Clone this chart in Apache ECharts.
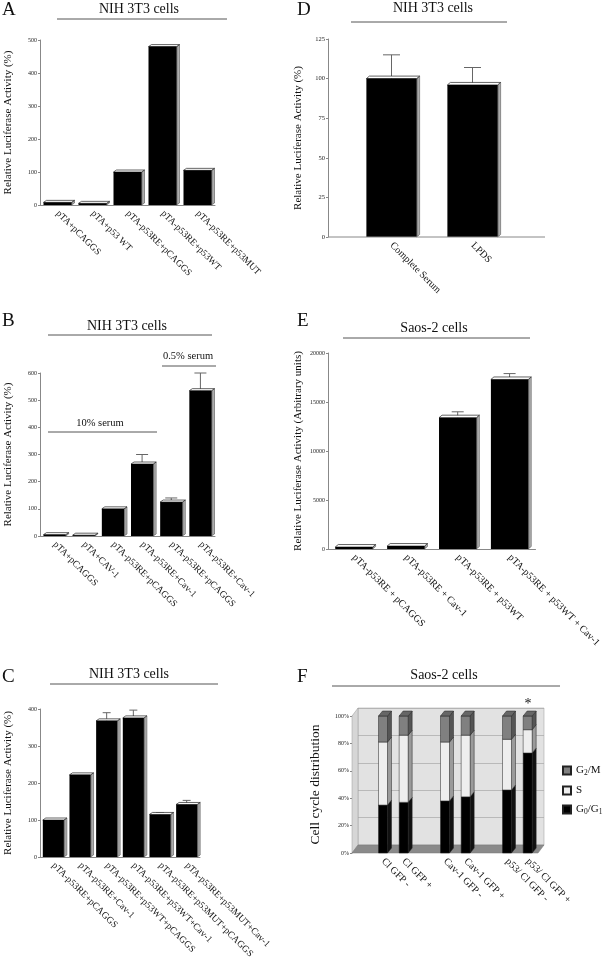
<!DOCTYPE html>
<html><head><meta charset="utf-8">
<script src="https://cdn.jsdelivr.net/npm/echarts@6/dist/echarts.min.js"></script>
<style>html,body{margin:0;padding:0;background:#fff}#c{width:603px;height:978px}</style>
</head><body><div id="c"></div><script>
// ---------- data ----------
const catsA = ['pTA+pCAGGS','pTA+p53 WT','pTA-p53RE+pCAGGS','pTA-p53RE+p53WT','pTA-p53RE+p53MUT'];
const valsA = [8, 5, 100, 480, 105];
const errA  = [0, 0, 0, 0, 0];

const catsB = ['pTA+pCAGGS','pTA+CAV-1','pTA-p53RE+pCAGGS','pTA-p53RE+Cav-1','pTA-p53RE+pCAGGS','pTA-p53RE+Cav-1'];
const valsB = [5, 3, 100, 265, 125, 535];
const errB  = [0, 0, 0, 300, 140, 600];

const catsC = ['pTA-p53RE+pCAGGS','pTA-p53RE+Cav-1','pTA-p53RE+p53WT+pCAGGS','pTA-p53RE+p53WT+Cav-1','pTA-p53RE+p53MUT+pCAGGS','pTA-p53RE+p53MUT+Cav-1'];
const valsC = [100, 222, 368, 376, 115, 142];
const errC  = [0, 0, 390, 397, 120, 153];

const catsD = ['Complete Serum','LPDS'];
const valsD = [100, 96];
const errD  = [115, 107];

const catsE = ['pTA-p53RE + pCAGGS','pTA-p53RE + Cav-1','pTA-p53RE + p53WT','pTA-p53RE + p53WT + Cav-1'];
const valsE = [200, 300, 13400, 17300];
const errE  = [0, 0, 14000, 17900];

const slotsF = ['', 'Cl GFP -', 'Cl GFP +', '', 'Cav-1 GFP -', 'Cav-1 GFP +', '', 'p53/ Cl GFP -', 'p53/ Cl GFP +'];
const g0g1F = [35, 37, 38, 41, 46, 73];
const sF    = [46, 49, 43, 45, 37, 17];
const g2mF  = [19, 14, 19, 14, 17, 10];

// ---------- helpers ----------
const FF = 'Liberation Serif, Times New Roman, serif';
function bar3d(ratio, cap, dx, dy) {
  return function (params, api) {
    const i = api.value(0), v = api.value(1), e = api.value(2);
    const p = api.coord([i, v]), p0 = api.coord([i, 0]);
    const bw = api.size([1, 0])[0] * ratio;
    const x0 = p[0] - bw / 2, x1 = p[0] + bw / 2, yt = p[1], yb = p0[1];
    const ch = [];
    if (e > v) {
      const pe = api.coord([i, e]);
      ch.push({type:'line', shape:{x1:p[0], y1:yt, x2:p[0], y2:pe[1]}, style:{stroke:'#666', lineWidth:1}});
      ch.push({type:'line', shape:{x1:p[0]-cap/2, y1:pe[1], x2:p[0]+cap/2, y2:pe[1]}, style:{stroke:'#666', lineWidth:1}});
    }
    ch.push({type:'polygon', shape:{points:[[x1,yt],[x1+dx,yt-dy],[x1+dx,yb-dy],[x1,yb]]},
      style:{fill:{type:'linear',x:0,y:0,x2:1,y2:0,colorStops:[{offset:0,color:'#777'},{offset:1,color:'#ccc'}]}, stroke:'#333', lineWidth:0.5}});
    ch.push({type:'polygon', shape:{points:[[x0,yt],[x0+dx,yt-dy],[x1+dx,yt-dy],[x1,yt]]},
      style:{fill:'#fff', stroke:'#222', lineWidth:0.7}});
    ch.push({type:'rect', shape:{x:x0, y:yt, width:bw, height:Math.max(yb-yt,0.5)}, style:{fill:'#000'}});
    return {type:'group', children:ch};
  };
}
const FBW = 9, FDX = 4, FDY = 5;
function seg3d(front, side, top) {
  return function (params, api) {
    const i = api.value(0), b = api.value(1), t = api.value(2);
    const pT = api.coord([i, t]), pB = api.coord([i, b]);
    const x0 = pT[0] - FBW / 2, x1 = pT[0] + FBW / 2;
    const ch = [
      {type:'polygon', shape:{points:[[x1,pT[1]],[x1+FDX,pT[1]-FDY],[x1+FDX,pB[1]-FDY],[x1,pB[1]]]}, style:{fill:side, stroke:'#222', lineWidth:0.5}},
      {type:'rect', shape:{x:x0, y:pT[1], width:FBW, height:pB[1]-pT[1]}, style:{fill:front, stroke:'#222', lineWidth:0.5}}
    ];
    if (top) ch.push({type:'polygon', shape:{points:[[x0,pT[1]],[x0+FDX,pT[1]-FDY],[x1+FDX,pT[1]-FDY],[x1,pT[1]]]}, style:{fill:top, stroke:'#222', lineWidth:0.5}});
    return {type:'group', children:ch};
  };
}
function yAx(gi, max, interval, name, nameGap, extra) {
  return Object.assign({
    gridIndex: gi, type: 'value', min: 0, max: max, interval: interval,
    name: name, nameLocation: 'middle', nameGap: nameGap,
    nameTextStyle: {fontFamily: FF, fontSize: 11, color: '#111'},
    axisLine: {show: true, lineStyle: {color: '#888', width: 1}},
    axisTick: {show: true, length: 2, lineStyle: {color: '#888'}},
    axisLabel: {fontSize: 6, color: '#222', margin: 3, fontFamily: FF, formatter: v => String(v)},
    splitLine: {show: false}
  }, extra || {});
}
function xAx(gi, data, fs, extra) {
  return Object.assign({
    gridIndex: gi, type: 'category', data: data,
    axisLine: {show: true, lineStyle: {color: '#888'}},
    axisTick: {show: false},
    axisLabel: {rotate: -45, fontSize: fs, fontFamily: FF, color: '#111', interval: 0, margin: 7}
  }, extra || {});
}
const rows = (vals, errs) => vals.map((v, i) => [i, v, errs[i]]);

// F stacked rows
const realIdx = slotsF.map((c, i) => c ? i : -1).filter(i => i >= 0);
const rowsG0 = realIdx.map((s, k) => [s, 0, g0g1F[k]]);
const rowsS  = realIdx.map((s, k) => [s, g0g1F[k], g0g1F[k] + sF[k]]);
const rowsG2 = realIdx.map((s, k) => [s, g0g1F[k] + sF[k], g0g1F[k] + sF[k] + g2mF[k]]);

// F geometry
const FL = 352, FT = 716, FW = 186, FH = 137, WDX = 6, WDY = 8;

// ---------- graphic ----------
const txt = (t, x, y, fs, align) => ({type:'text', z:100, style:{text:t, x:x, y:y, font: fs + 'px ' + FF, fill:'#111', textAlign: align || 'center', textVerticalAlign:'middle'}});
const ln = (x1, y1, x2, y2, c) => ({type:'line', z:100, shape:{x1:x1, y1:y1, x2:x2, y2:y2}, style:{stroke: c || '#555', lineWidth:1}});
const graphic = [
  txt('A', 2, 10, 19, 'left'), txt('NIH 3T3 cells', 139, 9, 14), ln(57, 19, 227, 19),
  txt('B', 2, 321, 19, 'left'), txt('NIH 3T3 cells', 127, 326, 14), ln(48, 335, 212, 335),
  txt('10% serum', 100, 423, 10.5), ln(48, 432, 157, 432),
  txt('0.5% serum', 188, 356, 10.5), ln(162, 366, 216, 366),
  txt('C', 2, 677, 19, 'left'), txt('NIH 3T3 cells', 129, 674, 14), ln(50, 684, 218, 684),
  txt('D', 297, 10, 19, 'left'), txt('NIH 3T3 cells', 433, 8, 14), ln(351, 22, 507, 22),
  ln(328, 237, 545, 237, '#888'),
  txt('E', 297, 321, 19, 'left'), txt('Saos-2 cells', 434, 328, 14), ln(343, 338, 530, 338),
  txt('F', 297, 677, 19, 'left'), txt('Saos-2 cells', 444, 675, 14), ln(332, 686, 560, 686),
  txt('*', 528, 704, 14),
  {type:'polygon', z:1, shape:{points:[[FL,FT],[FL+WDX,FT-WDY],[FL+WDX,FT+FH-WDY],[FL,FT+FH]]}, style:{fill:'#d6d6d6', stroke:'#999', lineWidth:0.5}},
  {type:'polygon', z:1, shape:{points:[[FL,FT+FH],[FL+WDX,FT+FH-WDY],[FL+FW+WDX,FT+FH-WDY],[FL+FW,FT+FH]]}, style:{fill:'#8a8a8a', stroke:'#777', lineWidth:0.5}}
];

// ---------- option ----------
const option = {
  animation: false,
  backgroundColor: '#fff',
  textStyle: {fontFamily: FF},
  graphic: graphic,
  legend: {
    orient: 'vertical', left: 557, top: 760, itemWidth: 8, itemHeight: 8, itemGap: 8, icon: 'rect',
    data: ['G2/M', 'S', 'G0/G1'],
    formatter: n => n === 'G2/M' ? 'G{sub|2}/M' : (n === 'G0/G1' ? 'G{sub|0}/G{sub|1}' : n),
    textStyle: {fontFamily: FF, fontSize: 11, color: '#111', rich: {sub: {fontSize: 7.5, fontFamily: FF, padding: [5, 0, 0, 0]}}}
  },
  grid: [
    {left: 40, top: 40, width: 175, height: 165},
    {left: 40, top: 373, width: 175, height: 163},
    {left: 40, top: 709, width: 160, height: 148},
    {left: 351, top: 39, width: 162, height: 198},
    {left: 328, top: 353, width: 212, height: 196},
    {left: FL + WDX, top: FT - WDY, width: FW, height: FH, show: true, backgroundColor: '#e2e2e2', borderColor: '#999', borderWidth: 0.5},
    {left: FL, top: FT, width: FW, height: FH}
  ],
  xAxis: [
    xAx(0, catsA, 9.5),
    xAx(1, catsB, 9.5),
    xAx(2, catsC, 9.5),
    xAx(3, catsD, 10, {axisLine: {show: false}}),
    xAx(4, catsE, 10),
    {gridIndex: 5, type: 'category', data: slotsF, show: false},
    xAx(6, slotsF, 10, {axisLine: {show: false}})
  ],
  yAxis: [
    yAx(0, 500, 100, 'Relative Luciferase Activity (%)', 26),
    yAx(1, 600, 100, 'Relative Luciferase Activity (%)', 26),
    yAx(2, 400, 100, 'Relative Luciferase Activity (%)', 26),
    yAx(3, 125, 25, 'Relative Luciferase Activity (%)', 24, {offset: 23, axisLabel: {fontSize: 6.5, color: '#222', margin: 3, fontFamily: FF}}),
    yAx(4, 20000, 5000, 'Relative Luciferase Activity (Arbitrary units)', 24),
    {gridIndex: 5, type: 'value', min: 0, max: 100, interval: 20, axisLine: {show: false}, axisTick: {show: false}, axisLabel: {show: false}, splitLine: {show: true, lineStyle: {color: '#a8a8a8', width: 0.7}}},
    yAx(6, 100, 20, 'Cell cycle distribution', 30, {
      nameTextStyle: {fontFamily: FF, fontSize: 13.5, color: '#111'},
      axisLine: {show: true, lineStyle: {color: '#999'}},
      axisLabel: {fontSize: 6, color: '#222', margin: 3, fontFamily: FF, formatter: '{value}%'}
    })
  ],
  series: [
    {type: 'custom', xAxisIndex: 0, yAxisIndex: 0, data: rows(valsA, errA), encode: {x: 0, y: 1}, renderItem: bar3d(0.8, 10, 3, 2)},
    {type: 'custom', xAxisIndex: 1, yAxisIndex: 1, data: rows(valsB, errB), encode: {x: 0, y: 1}, renderItem: bar3d(0.76, 12, 3, 2)},
    {type: 'custom', xAxisIndex: 2, yAxisIndex: 2, data: rows(valsC, errC), encode: {x: 0, y: 1}, renderItem: bar3d(0.79, 8, 3, 2)},
    {type: 'custom', xAxisIndex: 3, yAxisIndex: 3, data: rows(valsD, errD), encode: {x: 0, y: 1}, renderItem: bar3d(0.62, 17, 3, 2.5)},
    {type: 'custom', xAxisIndex: 4, yAxisIndex: 4, data: rows(valsE, errE), encode: {x: 0, y: 1}, renderItem: bar3d(0.72, 12, 3, 2.5)},
    {name: 'G0/G1', type: 'custom', xAxisIndex: 6, yAxisIndex: 6, data: rowsG0, encode: {x: 0, y: [1, 2]}, itemStyle: {color: '#000', borderColor: '#222', borderWidth: 0.5}, renderItem: seg3d('#000', '#111', null)},
    {name: 'S', type: 'custom', xAxisIndex: 6, yAxisIndex: 6, data: rowsS, encode: {x: 0, y: [1, 2]}, itemStyle: {color: '#eeeeee', borderColor: '#222', borderWidth: 0.5}, renderItem: seg3d('#eeeeee', '#9a9a9a', null)},
    {name: 'G2/M', type: 'custom', xAxisIndex: 6, yAxisIndex: 6, data: rowsG2, encode: {x: 0, y: [1, 2]}, itemStyle: {color: '#808080', borderColor: '#222', borderWidth: 0.5}, renderItem: seg3d('#808080', '#555', '#666')}
  ]
};
const chart = echarts.init(document.getElementById('c'), null, {renderer: 'canvas'});
chart.setOption(option);
</script></body></html>
